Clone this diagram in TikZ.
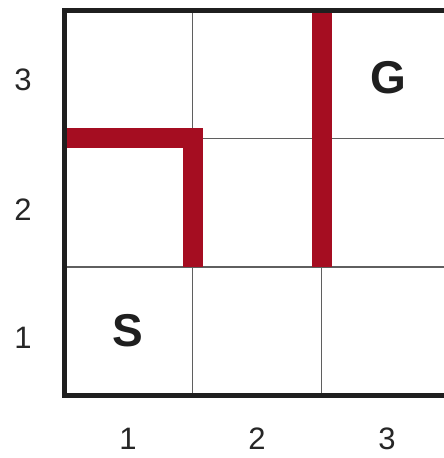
\documentclass[tikz,border=0pt]{standalone}
\usepackage{fontspec}
\setmainfont{Liberation Sans}
\definecolor{wallred}{RGB}{165,13,33}
\definecolor{gridgray}{RGB}{95,95,95}
\tikzset{
  gridline/.style={draw=gridgray, line width=1.1pt},
  wall/.style={draw=wallred, line width=20pt, line cap=butt, line join=miter},
  border/.style={draw=black!88, line width=5pt},
  axislabel/.style={font=\fontsize{31}{31}\selectfont, text=black!85, inner sep=0pt},
  celllabel/.style={font=\fontsize{46}{46}\selectfont\bfseries, text=black!88, inner sep=0pt}
}
\begin{document}
\begin{tikzpicture}[x=1pt,y=-1pt]
\useasboundingbox (0,0) rectangle (444,458);
\clip (0,0) rectangle (444,458);
\fill[white] (0,0) rectangle (444,458);
% grid lines
\draw[gridline] (192.6,10) -- (192.6,396);
\draw[gridline] (321.7,10) -- (321.7,396);
\draw[gridline] (64,138.4) -- (451,138.4);
\draw[gridline] (64,267) -- (451,267);
% walls
\coordinate (w1a) at (64,138.3);
\coordinate (w1b) at (192.7,138.3);
\coordinate (w1c) at (192.7,267);
\draw[wall] (w1a) -- (w1b) -- (w1c);
\coordinate (w2a) at (321.7,10);
\coordinate (w2b) at (321.7,267);
\draw[wall] (w2a) -- (w2b);
% border
\draw[border] (64,10) rectangle (451,395.5);
% cell labels
\node[celllabel] (G) at (388,78) {G};
\node[celllabel] (S) at (127.5,331) {S};
% axis labels
\node[axislabel] (r3) at (23,80) {3};
\node[axislabel] (r2) at (23,210) {2};
\node[axislabel] (r1) at (23,338) {1};
\node[axislabel] (c1) at (128,439) {1};
\node[axislabel] (c2) at (257,439) {2};
\node[axislabel] (c3) at (387,439) {3};
\end{tikzpicture}
\end{document}
